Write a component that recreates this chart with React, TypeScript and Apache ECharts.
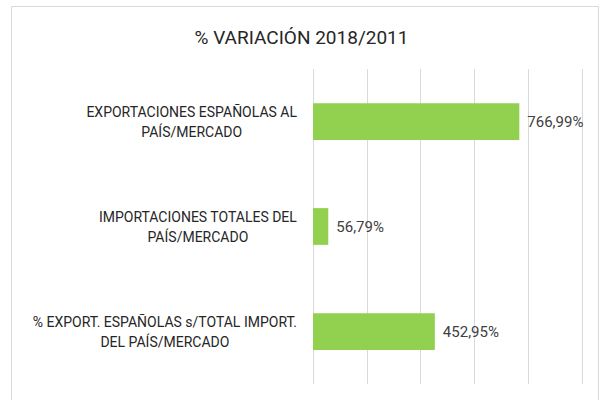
import React, { useEffect, useRef } from "react";
import * as echarts from "echarts";

const titleText = "% VARIACIÓN 2018/2011";
const categories = [
  "EXPORTACIONES ESPAÑOLAS AL\nPAÍS/MERCADO",
  "IMPORTACIONES TOTALES DEL\nPAÍS/MERCADO",
  "% EXPORT. ESPAÑOLAS s/TOTAL IMPORT.\nDEL PAÍS/MERCADO",
];
const values = [766.99, 56.79, 452.95];
const axisMin = 0;
const axisMax = 1000;
const axisInterval = 200;

const FONT = "Roboto, 'Liberation Sans', sans-serif";

export default function App() {
  const ref = useRef<HTMLDivElement>(null);
  useEffect(() => {
    if (!ref.current) return;
    const chart = echarts.init(ref.current, null, { renderer: "svg" });
    chart.setOption({
      animation: false,
      backgroundColor: "#ffffff",
      title: {
        text: titleText,
        left: "center",
        top: 23,
        textStyle: {
          fontFamily: FONT,
          fontSize: 19,
          fontWeight: "normal",
          color: "#262626",
        },
      },
      graphic: [
        {
          type: "rect",
          shape: { x: 11.5, y: 6.5, width: 587, height: 420 },
          style: { fill: "none", stroke: "#d9d9d9", lineWidth: 1 },
          silent: true,
          z: -1,
        },
      ],
      grid: { left: 313, right: 21, top: 69, bottom: 16, containLabel: false },
      xAxis: {
        type: "value",
        min: axisMin,
        max: axisMax,
        interval: axisInterval,
        axisLabel: { show: false },
        axisLine: { show: false },
        axisTick: { show: false },
        splitLine: { show: true, lineStyle: { color: "#d9d9d9", width: 1 } },
      },
      yAxis: {
        type: "category",
        data: categories,
        inverse: true,
        axisLine: { show: false },
        axisTick: { show: false },
        axisLabel: {
          margin: 16,
          align: "right",
          fontFamily: FONT,
          fontSize: 14,
          color: "#262626",
          lineHeight: 20,
          formatter: (v: string) =>
            v
              .split("\n")
              .map((l) => "{c|" + l + "}")
              .join("\n"),
          rich: {
            c: {
              align: "center",
              fontFamily: FONT,
              fontSize: 14,
              color: "#262626",
              lineHeight: 20,
            },
          },
        },
      },
      series: [
        {
          type: "bar",
          data: values,
          barWidth: "35%",
          itemStyle: { color: "#92D050" },
          label: {
            show: true,
            position: "right",
            distance: 8,
            fontFamily: FONT,
            fontSize: 15,
            color: "#404040",
            formatter: (p: any) =>
              Number(p.value).toFixed(2).replace(".", ",") + "%",
          },
        },
      ],
    });
    return () => chart.dispose();
  }, []);
  return (
    <div
      ref={ref}
      style={{ position: "fixed", left: 0, top: 0, width: 603, height: 400 }}
    />
  );
}
